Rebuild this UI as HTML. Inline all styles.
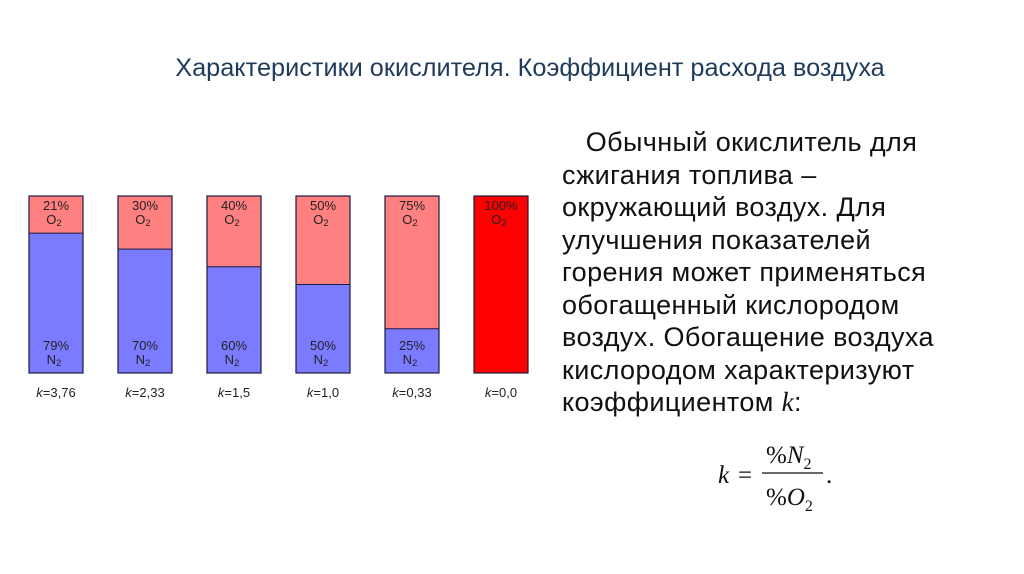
<!DOCTYPE html>
<html><head><meta charset="utf-8"><style>
body{margin:0;width:1024px;height:574px;background:#fff;overflow:hidden;position:relative;font-family:"Liberation Sans",sans-serif}
#title{position:absolute;left:0;width:1060px;top:54px;text-align:center;font-size:25.3px;color:#1f3b5c}
#txt{position:absolute;left:562px;top:126px;white-space:nowrap;font-size:27px;letter-spacing:0.4px;line-height:32.5px;color:#111}
</style></head><body>
<div id="title">Характеристики окислителя. Коэффициент расхода воздуха</div>
<div id="txt">&nbsp;&nbsp;&nbsp;Обычный окислитель для<br>сжигания топлива –<br>окружающий воздух. Для<br>улучшения показателей<br>горения может применяться<br>обогащенный кислородом<br>воздух. Обогащение воздуха<br>кислородом характеризуют<br>коэффициентом <i style="font-family:'Liberation Serif',serif">k</i>:</div>
<svg width="1024" height="574" style="position:absolute;left:0;top:0" id="svg">
<g font-family="Liberation Serif,serif" font-size="25" fill="#111">
<text x="718" y="483" font-style="italic">k</text>
<text x="738" y="483">=</text>
<text x="766" y="463">%<tspan font-style="italic">N</tspan><tspan font-size="16" dy="6">2</tspan></text>
<line x1="762" y1="473" x2="823" y2="473" stroke="#111" stroke-width="1.3"/>
<text x="766" y="505">%<tspan font-style="italic">O</tspan><tspan font-size="16" dy="6">2</tspan></text>
<text x="826" y="483">.</text>
</g>
<g id="chart"></g>
</svg>
<script>
const o2Values=[21,30,40,50,75,100];
const n2Values=[79,70,60,50,25,0];
const kLabels=["3,76","2,33","1,5","1,0","0,33","0,0"];
const NS="http://www.w3.org/2000/svg";
const chartG=document.getElementById('chart');
const x0=29,step=89,bw=54,topY=196,barH=177;
function yScale(p){return topY+p/100*barH;}
function mk(t,a){const e=document.createElementNS(NS,t);for(const k in a)e.setAttribute(k,a[k]);chartG.appendChild(e);return e;}
o2Values.forEach((o,i)=>{
const x=x0+i*step;const n=n2Values[i];
const red=o>=100?"#ff0000":"#ff8080";
const r1=mk('rect',{x:x,y:topY,width:bw,height:yScale(o)-topY,fill:red});


if(n>0){const r2=mk('rect',{x:x,y:yScale(o),width:bw,height:topY+barH-yScale(o),fill:"#7b7bff",stroke:"#1a1a40","stroke-width":1});

}
const b=mk('rect',{x:x,y:topY,width:bw,height:barH,fill:"none",stroke:"#1a1a40","stroke-width":1.2});


const cx=x+bw/2;
const t1=mk('text',{x:cx,y:topY+14,"text-anchor":"middle","font-size":13,fill:"#222"});t1.textContent=o+"%";


const t2=mk('text',{x:cx-2,y:topY+28,"text-anchor":"middle","font-size":13,fill:"#222"});t2.innerHTML='O<tspan font-size="9.5" dy="2">2</tspan>';


if(n>0){
const t3=mk('text',{x:cx,y:topY+barH-23,"text-anchor":"middle","font-size":13,fill:"#222"});t3.textContent=n+"%";


const t4=mk('text',{x:cx-2,y:topY+barH-9,"text-anchor":"middle","font-size":13,fill:"#222"});t4.innerHTML='N<tspan font-size="9.5" dy="2">2</tspan>';

}
const k=mk('text',{x:cx,y:topY+barH+24,"text-anchor":"middle","font-size":13,fill:"#222"});k.innerHTML='<tspan font-style="italic">k</tspan>='+kLabels[i];


});
</script>
</body></html>
